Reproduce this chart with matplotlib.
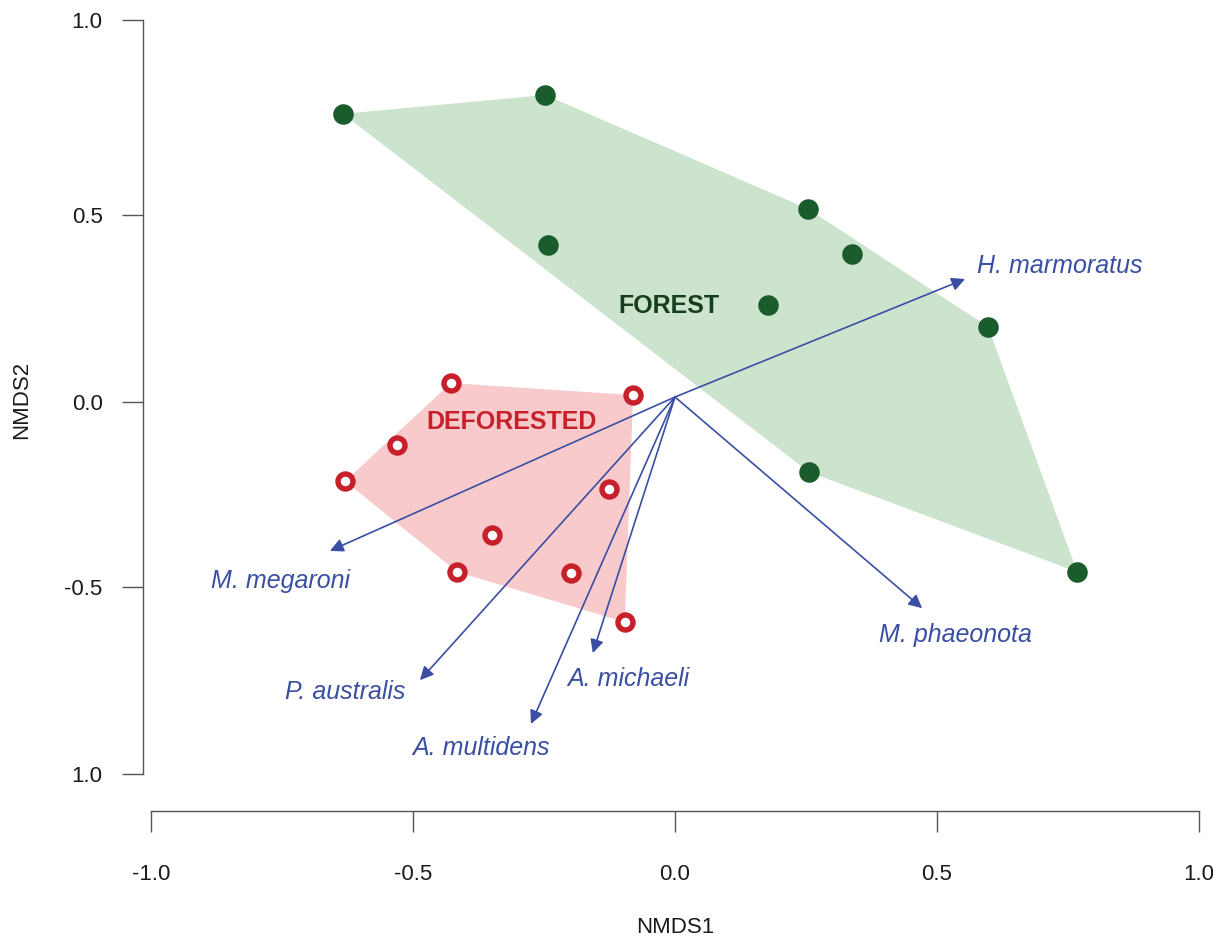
import matplotlib
matplotlib.use("Agg")
import matplotlib.pyplot as plt
import numpy as np

plt.rcParams['font.family'] = ['Liberation Sans', 'DejaVu Sans']

# --- data ---
forest_x = [-0.634, -0.248, 0.254, 0.338, -0.243, 0.178, 0.598, 0.256, 0.768]
forest_y = [0.751, 0.801, 0.499, 0.379, 0.403, 0.244, 0.186, -0.199, -0.464]

defor_x = [-0.428, -0.080, -0.531, -0.630, -0.126, -0.350, -0.416, -0.199, -0.096]
defor_y = [0.037, 0.005, -0.127, -0.223, -0.244, -0.366, -0.464, -0.467, -0.597]

species = ["H. marmoratus", "M. megaroni", "P. australis", "A. multidens", "A. michaeli", "M. phaeonota"]
vec_x = [0.554, -0.659, -0.487, -0.275, -0.157, 0.472]
vec_y = [0.313, -0.408, -0.751, -0.867, -0.679, -0.560]
lab_x = [0.735, -0.753, -0.630, -0.371, -0.090, 0.535]
lab_y = [0.347, -0.488, -0.782, -0.931, -0.748, -0.631]

group_labels = ["FOREST", "DEFORESTED"]
group_lab_x = [-0.011, -0.313]
group_lab_y = [0.241, -0.066]

xticks = [-1.0, -0.5, 0.0, 0.5, 1.0]
xticklabels = ["-1.0", "-0.5", "0.0", "0.5", "1.0"]
# tick marks sit where the reference draws them (slightly uneven)
yticks = [-1.0, -0.504, -0.013, 0.483, 1.0]
yticklabels = ["1.0", "-0.5", "0.0", "0.5", "1.0"]

# --- colours ---
GREEN_FILL = "#cce3cd"
GREEN_PT = "#1a5c2c"
GREEN_TXT = "#173d1f"
RED_FILL = "#f8cacb"
RED_PT = "#c8202a"
BLUE = "#3a4fa3"
AXC = "#555555"


def hull(xs, ys):
    pts = sorted(set(zip(xs, ys)))
    def cross(o, a, b):
        return (a[0]-o[0])*(b[1]-o[1]) - (a[1]-o[1])*(b[0]-o[0])
    lower, upper = [], []
    for p in pts:
        while len(lower) >= 2 and cross(lower[-2], lower[-1], p) <= 0:
            lower.pop()
        lower.append(p)
    for p in reversed(pts):
        while len(upper) >= 2 and cross(upper[-2], upper[-1], p) <= 0:
            upper.pop()
        upper.append(p)
    h = lower[:-1] + upper[:-1]
    return [p[0] for p in h], [p[1] for p in h]


W, H = 1213, 940
fig = plt.figure(figsize=(W/100, H/100), dpi=100)
ax = fig.add_axes([143/W, (H-811)/H, (1207-143)/W, 811/H])
ax.set_xlim(-1.016, 1.016)
ax.set_ylim(-1.098, 1.053)

hx, hy = hull(forest_x, forest_y)
ax.fill(hx, hy, color=GREEN_FILL, lw=0, zorder=1)
hx, hy = hull(defor_x, defor_y)
ax.fill(hx, hy, color=RED_FILL, lw=0, zorder=1)

for vx, vy, lx, ly, s in zip(vec_x, vec_y, lab_x, lab_y, species):
    ax.annotate("", xy=(vx, vy), xytext=(0, 0),
                arrowprops=dict(arrowstyle="-|>,head_length=0.4,head_width=0.2",
                                mutation_scale=20, lw=1.2, color=BLUE,
                                shrinkA=0, shrinkB=0), zorder=3)
    ax.text(lx, ly, s, color=BLUE, fontsize=18, style="italic",
            ha="center", va="center", zorder=4)

ax.plot(forest_x, forest_y, "o", ms=14.8, color=GREEN_PT, mec=GREEN_PT, mew=0, zorder=5)
ax.plot(defor_x, defor_y, "o", ms=10.8, mfc="white", mec=RED_PT, mew=3.9, zorder=5)

ax.text(group_lab_x[0], group_lab_y[0], group_labels[0], color=GREEN_TXT, fontsize=18,
        fontweight="bold", ha="center", va="center", zorder=6)
ax.text(group_lab_x[1], group_lab_y[1], group_labels[1], color=RED_PT, fontsize=18,
        fontweight="bold", ha="center", va="center", zorder=6)

for side in ["top", "right"]:
    ax.spines[side].set_visible(False)
for side in ["left", "bottom"]:
    ax.spines[side].set_color(AXC)
    ax.spines[side].set_linewidth(1.0)
ax.spines["left"].set_bounds(-1, 1)
ax.spines["bottom"].set_bounds(-1, 1)

ax.set_xticks(xticks)
ax.set_xticklabels(xticklabels)
ax.set_yticks(yticks)
ax.set_yticklabels(yticklabels)
ax.tick_params(axis="both", direction="out", length=15, width=1.0, color=AXC,
               labelsize=16, labelcolor="#1a1a1a")
ax.tick_params(axis="x", pad=23)
ax.tick_params(axis="y", pad=14)
ax.patch.set_visible(False)

fig.text(22/W, 1-400/H, "NMDS2", rotation=90, fontsize=16, color="#1a1a1a",
         ha="center", va="center")
fig.text(675/W, 1-938/H, "NMDS1", fontsize=16, color="#1a1a1a",
         ha="center", va="bottom")

fig.savefig("out.png", dpi=100)
